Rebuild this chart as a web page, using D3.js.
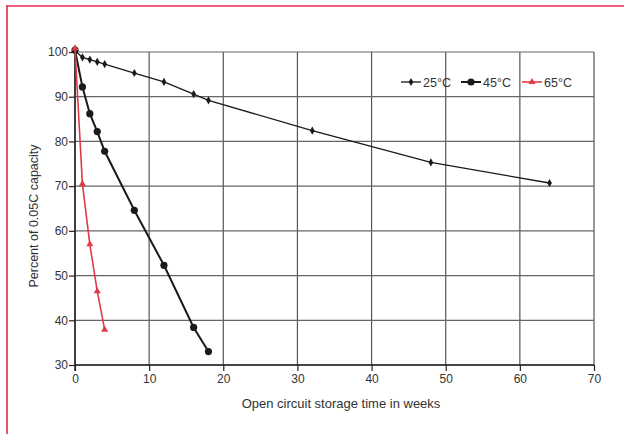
<!DOCTYPE html>
<html>
<head>
<meta charset="utf-8">
<script src="https://cdn.jsdelivr.net/npm/d3@7"></script>
<style>
  body { margin: 0; background: #fff; }
  svg { display: block; font-family: "Liberation Sans", Arial, sans-serif; }
</style>
</head>
<body>
<svg id="chart" width="624" height="434"></svg>
<script>
// data
var weeks25 = [0, 1, 2, 3, 4, 8, 12, 16, 18, 32, 48, 64];
var cap25   = [100.3, 98.8, 98.3, 97.8, 97.3, 95.3, 93.3, 90.6, 89.2, 82.4, 75.3, 70.7];
var weeks45 = [0, 1, 2, 3, 4, 8, 12, 16, 18];
var cap45   = [100.4, 92.2, 86.2, 82.2, 77.8, 64.6, 52.3, 38.4, 33.0];
var weeks65 = [0, 1, 2, 3, 4];
var cap65   = [100.8, 70.5, 57.0, 46.5, 37.9];
var seriesNames = ['25°C', '45°C', '65°C'];
var xTicks = [0, 10, 20, 30, 40, 50, 60, 70];
var yTicks = [30, 40, 50, 60, 70, 80, 90, 100];

var series = [
    { name: seriesNames[0], x: weeks25, y: cap25, color: '#1a1a1a', mark: 'diamond', r: 2.2, w: 1.3 },
    { name: seriesNames[1], x: weeks45, y: cap45, color: '#1a1a1a', mark: 'circle', r: 3.6, w: 2 },
    { name: seriesNames[2], x: weeks65, y: cap65, color: '#e03a44', mark: 'triangle', r: 2.6, w: 1.6 }
];

var svg = d3.select('#chart');

// frame
svg.append('line').attr('x1', 7).attr('x2', 624).attr('y1', 6).attr('y2', 6)
    .attr('stroke', '#f0607a').attr('stroke-width', 2);
svg.append('line').attr('x1', 7).attr('x2', 7).attr('y1', 5).attr('y2', 434)
    .attr('stroke', '#e0303c').attr('stroke-width', 1.6);

var margin = { left: 75, top: 52, right: 30, bottom: 69 };
var plotW = 594 - margin.left, plotH = 365 - margin.top;

var xScale = d3.scaleLinear().domain([0, 70]).range([0, plotW]);
var yScale = d3.scaleLinear().domain([30, 100]).range([plotH, 0]);

var g = svg.append('g').attr('transform', `translate(${margin.left},${margin.top})`);

// grid
g.selectAll('.vgrid').data(xTicks).enter().append('line')
    .attr('x1', d => xScale(d)).attr('x2', d => xScale(d))
    .attr('y1', 0).attr('y2', plotH)
    .attr('stroke', '#555').attr('stroke-width', 1.2);
g.selectAll('.hgrid').data(yTicks).enter().append('line')
    .attr('x1', 0).attr('x2', plotW)
    .attr('y1', d => yScale(d)).attr('y2', d => yScale(d))
    .attr('stroke', '#666').attr('stroke-width', 1.2);

// axes
var xAxis = g.append('g').attr('transform', `translate(0,${plotH})`)
    .call(d3.axisBottom(xScale).tickValues(xTicks).tickSize(6).tickPadding(3));
var yAxis = g.append('g')
    .call(d3.axisLeft(yScale).tickValues(yTicks).tickSize(6).tickPadding(1));
[xAxis, yAxis].forEach(a => {
    a.attr('font-size', 12).attr('font-family', null);
    a.selectAll('.tick text').attr('fill', '#333');
    a.select('.domain').attr('stroke', '#222').attr('stroke-width', 1.5);
    a.selectAll('.tick line').attr('stroke', '#222').attr('stroke-width', 1.2);
});
yAxis.select('.domain').attr('d', `M0,${plotH + 6}V0`);
xAxis.select('.domain').attr('d', `M0,0H${plotW}`);

// axis labels
svg.append('text').attr('x', 341).attr('y', 408).attr('text-anchor', 'middle')
    .attr('font-size', 13).attr('fill', '#333')
    .text('Open circuit storage time in weeks');
svg.append('text').attr('transform', 'translate(38,216) rotate(-90)')
    .attr('text-anchor', 'middle').attr('font-size', 12.5).attr('fill', '#333')
    .text('Percent of 0.05C capacity');

function symbolFor(s) {
    if (s.mark === 'diamond') return d3.symbol().type(d3.symbolDiamond).size(s.r * s.r * 4);
    if (s.mark === 'circle') return d3.symbol().type(d3.symbolCircle).size(Math.PI * s.r * s.r);
    return d3.symbol().type(d3.symbolTriangle).size(s.r * s.r * 3.2);
}

var line = d3.line().x(d => xScale(d[0])).y(d => yScale(d[1]));

// draw 25 then 45 then 65 (red on top)
series.forEach(s => {
    var pts = s.x.map((x, i) => [x, s.y[i]]);
    g.append('path').datum(pts).attr('d', line)
        .attr('fill', 'none').attr('stroke', s.color).attr('stroke-width', s.w);
    g.selectAll(null).data(pts).enter().append('path')
        .attr('transform', d => `translate(${xScale(d[0])},${yScale(d[1])})`)
        .attr('d', symbolFor(s)).attr('fill', s.color);
});

// legend
var legendX = [401, 461, 522];
var legend = svg.append('g');
series.forEach((s, i) => {
    var lg = legend.append('g').attr('transform', `translate(${legendX[i]},82)`);
    lg.append('line').attr('x1', 0).attr('x2', 20).attr('stroke', s.color).attr('stroke-width', s.w);
    lg.append('path').attr('transform', 'translate(10,0)').attr('d', symbolFor(s)).attr('fill', s.color);
    lg.append('text').attr('x', 22).attr('y', 4.5).attr('font-size', 12.5).attr('fill', '#333').text(s.name);
});
</script>
</body>
</html>
